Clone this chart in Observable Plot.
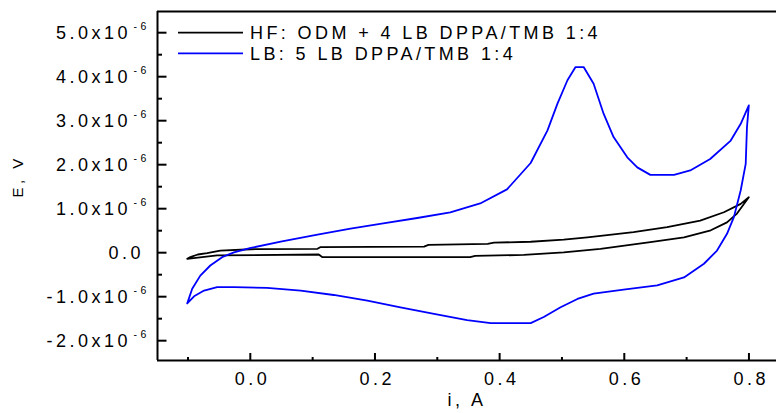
<!DOCTYPE html>
<html>
<head>
<meta charset="utf-8">
<script src="https://cdn.jsdelivr.net/npm/d3@7"></script>
<script src="https://cdn.jsdelivr.net/npm/@observablehq/plot@0.6"></script>
<style>
  html, body { margin: 0; padding: 0; background: #fff; }
  #chart svg text { letter-spacing: 3.5px; }
</style>
</head>
<body>
<div id="chart"></div>
<script>
// ---- data (E in units of 1e-6 V) ----
const seriesNames = ["HF: ODM + 4 LB DPPA/TMB 1:4", "LB: 5 LB DPPA/TMB 1:4"];
const seriesColors = ["#000000", "#0000ff"];

const hfI = [-0.102, -0.097, -0.085, -0.07, -0.049, 0.0, 0.107, 0.112, 0.278, 0.285, 0.38, 0.39, 0.449, 0.502, 0.54, 0.614, 0.668, 0.721, 0.759, 0.786, 0.799,
             0.78, 0.764, 0.738, 0.695, 0.641, 0.561, 0.502, 0.438, 0.36, 0.352, 0.115, 0.109, -0.054, -0.085, -0.102];
const hfE = [-0.13, -0.09, -0.03, 0.0, 0.06, 0.09, 0.10, 0.14, 0.15, 0.19, 0.21, 0.24, 0.26, 0.31, 0.36, 0.48, 0.59, 0.74, 0.93, 1.12, 1.27,
             0.9, 0.7, 0.52, 0.36, 0.25, 0.1, 0.02, -0.04, -0.06, -0.09, -0.09, -0.03, -0.05, -0.1, -0.13];

const lbI = [-0.102, -0.094, -0.081, -0.065, -0.046, -0.027, 0.0, 0.05, 0.107, 0.16, 0.21, 0.267, 0.32, 0.368, 0.411, 0.449, 0.476, 0.492, 0.508, 0.521, 0.534,
             0.55, 0.566, 0.582, 0.604, 0.62, 0.641, 0.679, 0.705, 0.737, 0.77, 0.786, 0.799,
             0.796, 0.794, 0.786, 0.775, 0.764, 0.748, 0.727, 0.695, 0.652, 0.598, 0.55, 0.524, 0.497, 0.47, 0.449, 0.385, 0.347, 0.294, 0.24, 0.187, 0.133, 0.08, 0.026, -0.027, -0.054, -0.075, -0.091, -0.102];
const lbE = [-1.14, -0.81, -0.51, -0.28, -0.09, 0.02, 0.12, 0.27, 0.42, 0.56, 0.67, 0.80, 0.93, 1.13, 1.45, 2.05, 2.79, 3.4, 3.93, 4.23, 4.23,
             3.85, 3.17, 2.64, 2.18, 1.95, 1.78, 1.78, 1.88, 2.14, 2.56, 2.94, 3.36,
             2.86, 2.03, 1.43, 0.82, 0.44, 0.06, -0.24, -0.55, -0.73, -0.83, -0.92, -1.04, -1.23, -1.45, -1.59, -1.59, -1.52, -1.38, -1.23, -1.08, -0.95, -0.85, -0.79, -0.77, -0.77, -0.85, -0.98, -1.14];

const xTicks = [0, 0.2, 0.4, 0.6, 0.8];
const xMinorTicks = [-0.1, 0.1, 0.3, 0.5, 0.7];
const yTicks = [-2, -1, 0, 1, 2, 3, 4, 5];
const yMinorTicks = [-1.5, -0.5, 0.5, 1.5, 2.5, 3.5, 4.5];
const yExponent = "-6";
const xTitle = "i, A";
const yTitle = "E, V";
const xDomain = [-0.1497, 0.8434];
const yDomain = [-2.439, 5.493];

// ---- build tables ----
const hf = hfI.map((v, k) => ({i: v, e: hfE[k]}));
const lb = lbI.map((v, k) => ({i: v, e: lbE[k]}));
const yNonZero = yTicks.filter(v => v !== 0);
const yZero = yTicks.filter(v => v === 0);

const W = 776, H = 413, ML = 157, MT = 11, MB = 53, MR = 0;

const chart = Plot.plot({
  width: W, height: H,
  marginLeft: ML, marginTop: MT, marginBottom: MB, marginRight: MR,
  x: {domain: xDomain, axis: null},
  y: {domain: yDomain, axis: null},
  style: {fontFamily: "'Liberation Sans', Arial, sans-serif", fontSize: "18px", color: "#000", background: "#fff", overflow: "visible"},
  marks: [
    Plot.line(hf, {x: "i", y: "e", stroke: seriesColors[0], strokeWidth: 1.8}),
    Plot.line(lb, {x: "i", y: "e", stroke: seriesColors[1], strokeWidth: 1.8}),
    Plot.ruleX([xDomain[0]], {stroke: "#000", strokeWidth: 2}),
    Plot.ruleY([yDomain[0], yDomain[1]], {stroke: "#000", strokeWidth: 2}),
    Plot.text(xTicks, {x: d => d, frameAnchor: "bottom", dy: 24.5, dx: 1.75, text: d => d.toFixed(1), fontSize: 18}),
    Plot.text(yNonZero, {y: d => d, frameAnchor: "left", textAnchor: "end", dx: -26.5, text: d => d.toFixed(1) + "x10", fontSize: 18}),
    Plot.text(yZero, {y: d => d, frameAnchor: "left", textAnchor: "end", dx: -13.5, text: d => d.toFixed(1), fontSize: 18}),
    Plot.text(yNonZero, {y: d => d, frameAnchor: "left", textAnchor: "start", dx: -24, dy: -6.7, text: () => yExponent, fontSize: 10.5, ariaLabel: "yexp"}),
    Plot.text([xTitle], {frameAnchor: "bottom", dy: 45, text: d => d, fontSize: 18, ariaLabel: "xtitle"}),
    Plot.text([yTitle], {frameAnchor: "left", rotate: -90, dx: -139, dy: 11.5, text: d => d, fontSize: 15, ariaLabel: "ytitle"})
  ]
});

document.getElementById("chart").appendChild(chart);

const svg = d3.select(chart);
svg.selectAll('g[aria-label="yexp"] text').style("letter-spacing", "0.5px");
svg.selectAll('g[aria-label="xtitle"] text').style("letter-spacing", "1px");
svg.selectAll('g[aria-label="ytitle"] text').style("letter-spacing", "1px");

// inward ticks through the plot's own scales
const sx = chart.scale("x"), sy = chart.scale("y");
const yb = sy.apply(yDomain[0]);
const xl = sx.apply(xDomain[0]);
const tg = svg.append("g").attr("stroke", "#000").attr("stroke-width", 2);
xTicks.forEach(v => tg.append("line").attr("x1", sx.apply(v)).attr("x2", sx.apply(v)).attr("y1", yb).attr("y2", yb - 7));
xMinorTicks.forEach(v => tg.append("line").attr("x1", sx.apply(v)).attr("x2", sx.apply(v)).attr("y1", yb).attr("y2", yb - 3));
yTicks.forEach(v => tg.append("line").attr("y1", sy.apply(v)).attr("y2", sy.apply(v)).attr("x1", xl).attr("x2", xl + 9.5));
yMinorTicks.forEach(v => tg.append("line").attr("y1", sy.apply(v)).attr("y2", sy.apply(v)).attr("x1", xl).attr("x2", xl + 5));

// legend inside the frame, top-left
const lg = svg.append("g").attr("font-family", "'Liberation Sans', Arial, sans-serif").attr("font-size", 18).attr("text-anchor", "start");
seriesNames.forEach((name, k) => {
  const cy = MT + 21.7 + k * 20.6;
  lg.append("line").attr("x1", ML + 21).attr("x2", ML + 86).attr("y1", cy).attr("y2", cy)
    .attr("stroke", seriesColors[k]).attr("stroke-width", 1.7);
  lg.append("text").attr("x", ML + 93).attr("y", cy + 6.45).attr("fill", "#000")
    .attr("text-anchor", "start").style("letter-spacing", "3.4px").text(name);
});
</script>
</body>
</html>
